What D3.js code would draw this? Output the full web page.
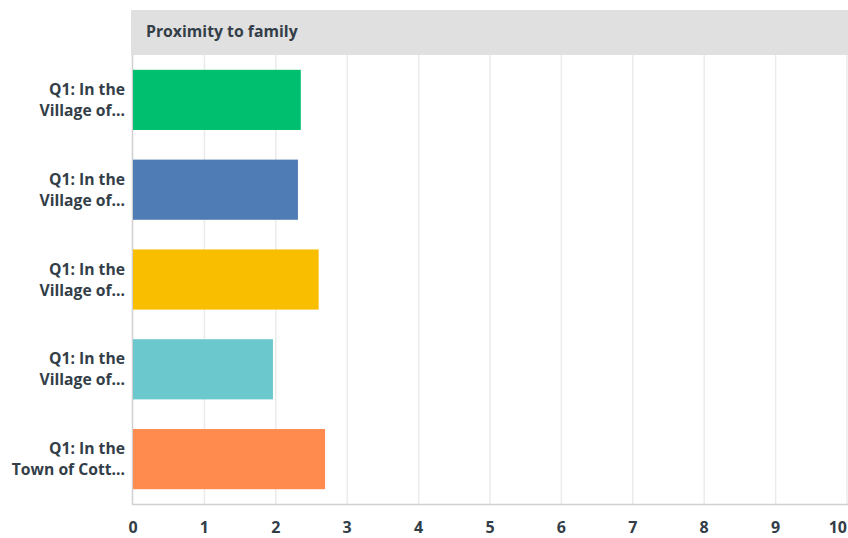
<!DOCTYPE html>
<html><head><meta charset="utf-8">
<script src="https://cdn.jsdelivr.net/npm/d3@7"></script>
<style>
body{margin:0;background:#fff;}
text{font-family:"Open Sans",sans-serif;font-weight:700;fill:#333e48;}
</style></head>
<body><svg id="c" width="848" height="538"></svg>
<script>
const categories = [["Q1: In the","Village of..."],["Q1: In the","Village of..."],["Q1: In the","Village of..."],["Q1: In the","Village of..."],["Q1: In the","Town of Cott..."]];
const values = [2.35, 2.31, 2.60, 1.96, 2.69];
const colors = ["#00bf6f","#507cb6","#f9be00","#6bc8cd","#ff8b4f"];
const ticks = [0,1,2,3,4,5,6,7,8,9,10];
const title = "Proximity to family";

const svg = d3.select("#c");
const x = d3.scaleLinear().domain([0,10]).range([133,847]);
const y = d3.scaleBand().domain(d3.range(categories.length)).range([55,504]).paddingInner(0.33).paddingOuter(0.165);

svg.append("rect").attr("x",131).attr("y",10).attr("width",717).attr("height",45).attr("fill","#e0e0e0");
svg.append("text").attr("x",146).attr("y",37).attr("font-size",15.8).text(title);

svg.append("g").selectAll("line").data(ticks.slice(1)).join("line")
  .attr("x1",d=>x(d)).attr("x2",d=>x(d)).attr("y1",55).attr("y2",504)
  .attr("stroke","#ebebeb").attr("stroke-width",1.5);

svg.append("line").attr("x1",132.5).attr("x2",132.5).attr("y1",55).attr("y2",505).attr("stroke","#d0d0d0").attr("stroke-width",1.5);
svg.append("line").attr("x1",132).attr("x2",848).attr("y1",504.5).attr("y2",504.5).attr("stroke","#d0d0d0").attr("stroke-width",1.5);

svg.append("g").selectAll("rect").data(values).join("rect")
  .attr("x",x(0)).attr("y",(d,i)=>y(i)).attr("width",d=>x(d)-x(0)).attr("height",y.bandwidth())
  .attr("fill",(d,i)=>colors[i]);

const lab = svg.append("g").selectAll("text").data(categories).join("text")
  .attr("text-anchor","end").attr("font-size",15.7);
lab.each(function(d,i){
  const c = y(i)+y.bandwidth()/2;
  d3.select(this).selectAll("tspan").data(d).join("tspan")
    .attr("x",125).attr("y",(t,j)=>c-5+j*21).text(t=>t);
});

svg.append("g").selectAll("text").data(ticks).join("text")
  .attr("x",d=>d===10?847:x(d)).attr("y",533)
  .attr("text-anchor",d=>d===10?"end":"middle").attr("font-size",16).text(d=>d);
</script></body></html>
